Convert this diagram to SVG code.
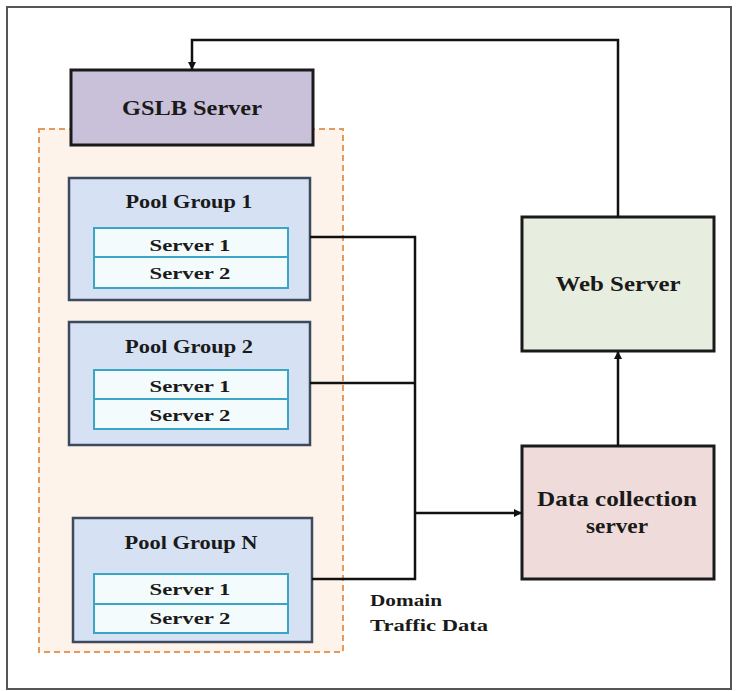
<svg xmlns="http://www.w3.org/2000/svg" width="736" height="691" viewBox="0 0 736 691">
  <defs>
    <marker id="arrow" markerWidth="8" markerHeight="8" refX="7" refY="4" orient="auto" markerUnits="userSpaceOnUse">
      <path d="M0,0 L8,4 L0,8 Z" fill="#111"/>
    </marker>
  </defs>
  <style>
    text { font-family: "Liberation Serif", "Times New Roman", serif; font-weight: bold; fill: #1a1a1a; text-anchor: middle; }
    .frame { fill: #ffffff; stroke: #555; stroke-width: 2; }
    .pool-area { fill: #fdf3ea; stroke: #e39a5b; stroke-width: 2; stroke-dasharray: 6 4; }
    .gslb { fill: #c9c1d9; stroke: #1a1a1a; stroke-width: 3; }
    .pool { fill: #d6e2f3; stroke: #3d4a5e; stroke-width: 2.5; }
    .srv { fill: #f4fbfd; stroke: #38a6c4; stroke-width: 2; }
    .web { fill: #e8eedf; stroke: #1a1a1a; stroke-width: 3; }
    .dc { fill: #f0dbdb; stroke: #1a1a1a; stroke-width: 3; }
    .link { fill: none; stroke: #111; stroke-width: 2.5; }
    .t-big { font-size: 21px; }
    .t-pool { font-size: 18px; }
    .t-srv { font-size: 17px; }
    .t-lbl { font-size: 16px; text-anchor: start; }
  </style>

  <!-- outer frame -->
  <rect class="frame" x="7" y="7" width="724" height="682"/>

  <!-- dashed area holding the pool groups -->
  <rect class="pool-area" x="39" y="129" width="304" height="523"/>

  <g id="gslb-server">
    <rect class="gslb" x="71" y="70" width="242" height="75"/>
    <text class="t-big" x="192" y="115" textLength="140" lengthAdjust="spacingAndGlyphs">GSLB Server</text>
  </g>

  <g id="pool-group-1">
    <rect class="pool" x="69" y="178" width="241" height="122"/>
    <text class="t-pool" x="189" y="208" textLength="127" lengthAdjust="spacingAndGlyphs">Pool Group 1</text>
    <rect class="srv" x="94" y="228" width="194" height="29"/>
    <rect class="srv" x="94" y="257" width="194" height="31"/>
    <text class="t-srv" x="190" y="251" textLength="81" lengthAdjust="spacingAndGlyphs">Server 1</text>
    <text class="t-srv" x="190" y="279" textLength="81" lengthAdjust="spacingAndGlyphs">Server 2</text>
  </g>

  <g id="pool-group-2">
    <rect class="pool" x="69" y="322" width="241" height="123"/>
    <text class="t-pool" x="189" y="353" textLength="128" lengthAdjust="spacingAndGlyphs">Pool Group 2</text>
    <rect class="srv" x="94" y="370" width="194" height="29"/>
    <rect class="srv" x="94" y="399" width="194" height="30"/>
    <text class="t-srv" x="190" y="392" textLength="81" lengthAdjust="spacingAndGlyphs">Server 1</text>
    <text class="t-srv" x="190" y="421" textLength="81" lengthAdjust="spacingAndGlyphs">Server 2</text>
  </g>

  <g id="pool-group-n">
    <rect class="pool" x="73" y="518" width="239" height="124"/>
    <text class="t-pool" x="191" y="549" textLength="133" lengthAdjust="spacingAndGlyphs">Pool Group N</text>
    <rect class="srv" x="94" y="574" width="194" height="30"/>
    <rect class="srv" x="94" y="604" width="194" height="29"/>
    <text class="t-srv" x="190" y="595" textLength="81" lengthAdjust="spacingAndGlyphs">Server 1</text>
    <text class="t-srv" x="190" y="624" textLength="81" lengthAdjust="spacingAndGlyphs">Server 2</text>
  </g>

  <g id="web-server">
    <rect class="web" x="522" y="217" width="192" height="134"/>
    <text class="t-big" x="618" y="291" textLength="125" lengthAdjust="spacingAndGlyphs">Web Server</text>
  </g>

  <g id="data-collection-server">
    <rect class="dc" x="522" y="446" width="192" height="133"/>
    <text class="t-big" x="617" y="506" textLength="160" lengthAdjust="spacingAndGlyphs">Data collection</text>
    <text class="t-big" x="617" y="533" textLength="62" lengthAdjust="spacingAndGlyphs">server</text>
  </g>

  <g id="connectors">
    <!-- pool groups to the shared trunk -->
    <polyline class="link" points="310,237 415,237 415,579 312,579"/>
    <line class="link" x1="310" y1="383" x2="415" y2="383"/>
    <!-- trunk to data collection server -->
    <line class="link" x1="415" y1="513" x2="521" y2="513" marker-end="url(#arrow)"/>
    <!-- data collection server to web server -->
    <line class="link" x1="618" y1="446" x2="618" y2="352" marker-end="url(#arrow)"/>
    <!-- web server back to GSLB server -->
    <polyline class="link" points="618,217 618,40 192,40 192,69" marker-end="url(#arrow)"/>
  </g>

  <g id="domain-traffic-label">
    <text class="t-lbl" x="370" y="606" textLength="72" lengthAdjust="spacingAndGlyphs">Domain</text>
    <text class="t-lbl" x="370" y="631" textLength="118" lengthAdjust="spacingAndGlyphs">Traffic Data</text>
  </g>
</svg>
